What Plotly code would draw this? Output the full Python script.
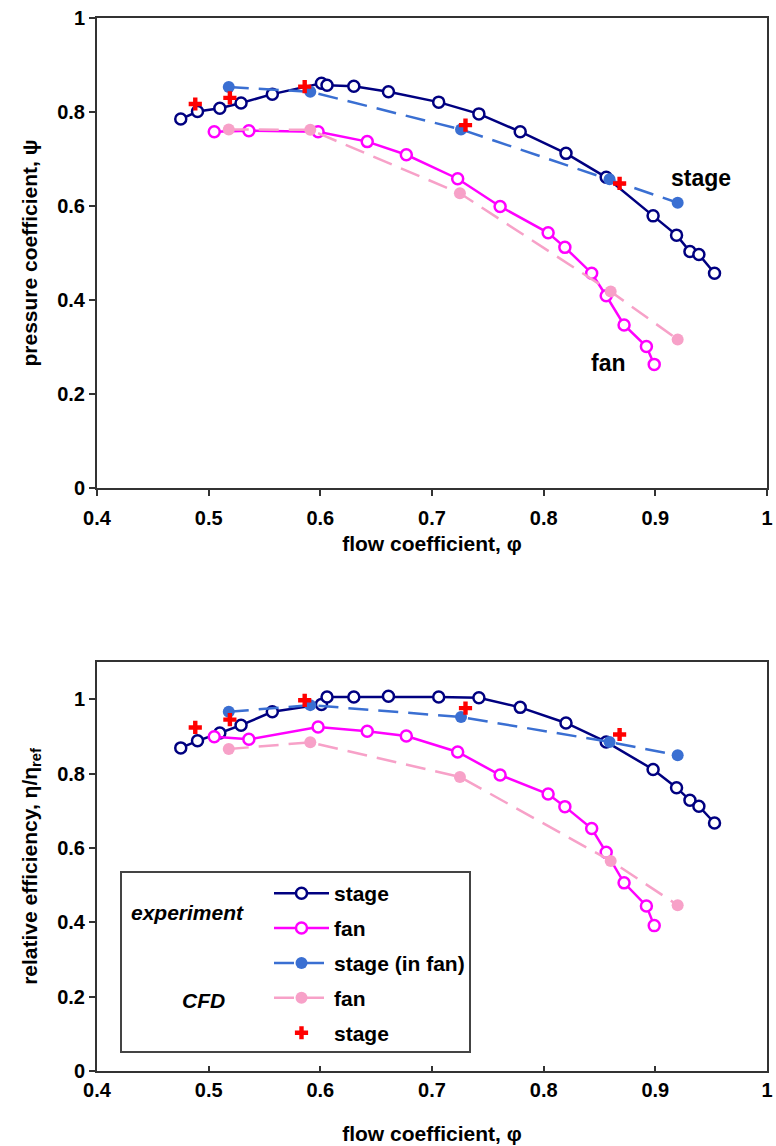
import plotly.graph_objects as go

# ---------------- data ----------------
# experiment, stage
phi_stage_exp = [0.475, 0.490, 0.510, 0.529, 0.557, 0.601, 0.606, 0.630, 0.661, 0.706,
                 0.742, 0.779, 0.820, 0.856, 0.898, 0.919, 0.931, 0.939, 0.953]
psi_stage_exp = [0.785, 0.801, 0.808, 0.819, 0.838, 0.861, 0.857, 0.855, 0.843, 0.821,
                 0.796, 0.758, 0.712, 0.661, 0.579, 0.538, 0.503, 0.497, 0.457]
eff_stage_exp = [0.869, 0.888, 0.909, 0.930, 0.966, 0.986, 1.006, 1.006, 1.008, 1.006,
                 1.004, 0.978, 0.936, 0.885, 0.811, 0.762, 0.728, 0.712, 0.667]

# experiment, fan
phi_fan_exp = [0.505, 0.536, 0.598, 0.642, 0.677, 0.723, 0.761, 0.804, 0.819, 0.843,
               0.856, 0.872, 0.892, 0.899]
psi_fan_exp = [0.758, 0.760, 0.758, 0.737, 0.709, 0.658, 0.599, 0.543, 0.512, 0.457,
               0.409, 0.347, 0.301, 0.263]
eff_fan_exp = [0.899, 0.892, 0.925, 0.914, 0.901, 0.858, 0.796, 0.745, 0.711, 0.652,
               0.588, 0.506, 0.444, 0.391]

# CFD, stage (in fan)
phi_stage_cfd = [0.518, 0.591, 0.726, 0.859, 0.920]
psi_stage_cfd = [0.853, 0.843, 0.763, 0.657, 0.607]
eff_stage_cfd = [0.966, 0.984, 0.952, 0.885, 0.849]

# CFD, fan
phi_fan_cfd = [0.518, 0.591, 0.725, 0.860, 0.920]
psi_fan_cfd = [0.763, 0.762, 0.627, 0.418, 0.316]
eff_fan_cfd = [0.866, 0.884, 0.791, 0.565, 0.446]

# CFD, stage
phi_stage_cfd2 = [0.488, 0.519, 0.586, 0.730, 0.868]
psi_stage_cfd2 = [0.817, 0.830, 0.854, 0.772, 0.648]
eff_stage_cfd2 = [0.924, 0.945, 0.997, 0.976, 0.905]

x_ticks = [0.4, 0.5, 0.6, 0.7, 0.8, 0.9, 1.0]
x_tick_text = ["0.4", "0.5", "0.6", "0.7", "0.8", "0.9", "1"]
y_ticks = [0, 0.2, 0.4, 0.6, 0.8, 1.0]
y_tick_text = ["0", "0.2", "0.4", "0.6", "0.8", "1"]

# ---------------- style ----------------
FONT = "Liberation Sans, Arial, sans-serif"
NAVY = "#000080"
MAGENTA = "#FF00FF"
BLUE = "#3A6FD2"
PINK = "#F7A1C8"
RED = "#FF0000"
W, H = 776, 1146

def px_x(p):
    return p / W

def px_y(p):
    return 1 - p / H

fig = go.Figure()

series = [
    dict(name="stage", x=phi_stage_exp, top=psi_stage_exp, bot=eff_stage_exp,
         mode="lines+markers", line=dict(color=NAVY, width=2.5),
         marker=dict(symbol="circle", size=11, color="white", line=dict(color=NAVY, width=2.5))),
    dict(name="fan", x=phi_fan_exp, top=psi_fan_exp, bot=eff_fan_exp,
         mode="lines+markers", line=dict(color=MAGENTA, width=2.5),
         marker=dict(symbol="circle", size=11, color="white", line=dict(color=MAGENTA, width=2.5))),
    dict(name="stage (in fan)", x=phi_stage_cfd, top=psi_stage_cfd, bot=eff_stage_cfd,
         mode="lines+markers", line=dict(color=BLUE, width=2.5, dash="20px,10px"),
         marker=dict(symbol="circle", size=12, color=BLUE)),
    dict(name="fan", x=phi_fan_cfd, top=psi_fan_cfd, bot=eff_fan_cfd,
         mode="lines+markers", line=dict(color=PINK, width=2.5, dash="20px,10px"),
         marker=dict(symbol="circle", size=12, color=PINK)),
    dict(name="stage", x=phi_stage_cfd2, top=psi_stage_cfd2, bot=eff_stage_cfd2,
         mode="markers", line=None,
         marker=dict(symbol="cross", size=11, color=RED)),
]

for i, s in enumerate(series):
    kw = dict(mode=s["mode"], marker=s["marker"])
    if s["line"] is not None:
        kw["line"] = s["line"]
    fig.add_trace(go.Scatter(x=s["x"], y=s["top"], xaxis="x", yaxis="y",
                             showlegend=False, name=s["name"], **kw))
    fig.add_trace(go.Scatter(x=s["x"], y=s["bot"], xaxis="x2", yaxis="y2",
                             showlegend=True, legendgroup="g%d" % i,
                             name=s["name"], **kw))

tickfont = dict(family=FONT, size=20, color="black", weight="bold")
titlefont = dict(family=FONT, size=21, color="black", weight="bold")
axis_common = dict(showline=True, linecolor="#333333", linewidth=2, mirror=True,
                   tickcolor="#333333", tickwidth=1.5, automargin=False,
                   showgrid=False, zeroline=False, tickfont=tickfont)

fig.update_layout(
    width=W, height=H,
    margin=dict(l=0, r=0, t=0, b=0),
    paper_bgcolor="white", plot_bgcolor="white",
    xaxis=dict(domain=[px_x(97), px_x(767)], range=[0.4, 1.0], anchor="y",
               tickvals=x_ticks, ticktext=x_tick_text, ticks="outside", ticklen=6,
               ticklabelstandoff=5,
               title=dict(text="flow coefficient, φ", font=titlefont, standoff=8),
               **axis_common),
    yaxis=dict(domain=[px_y(488), px_y(18)], range=[0, 1.0], anchor="x",
               tickvals=y_ticks, ticktext=y_tick_text, ticks="outside", ticklen=6,
               title=dict(text="pressure coefficient, ψ", font=titlefont, standoff=14),
               **axis_common),
    xaxis2=dict(domain=[px_x(97), px_x(767)], range=[0.4, 1.0], anchor="y2",
                tickvals=x_ticks, ticktext=x_tick_text, ticks="inside", ticklen=5,
                title=dict(text="flow coefficient, φ", font=titlefont, standoff=26),
                **axis_common),
    yaxis2=dict(domain=[px_y(1071), px_y(662)], range=[0, 1.1], anchor="x2",
                tickvals=y_ticks, ticktext=y_tick_text, ticks="outside", ticklen=6,
                title=dict(text="relative efficiency, η/η<sub>ref</sub>", font=titlefont, standoff=14),
                **axis_common),
    legend=dict(x=px_x(269), y=px_y(873), xanchor="left", yanchor="top",
                bgcolor="rgba(0,0,0,0)", borderwidth=0,
                traceorder="grouped", tracegroupgap=4.6, itemwidth=55,
                font=dict(family=FONT, size=21, color="black", weight="bold")),
    shapes=[dict(type="rect", xref="paper", yref="paper",
                 x0=px_x(121), x1=px_x(470), y0=px_y(1052), y1=px_y(872),
                 line=dict(color="#444444", width=2), fillcolor="rgba(0,0,0,0)")],
    annotations=[
        dict(text="stage", x=0.941, y=0.66, xref="x", yref="y", showarrow=False,
             xanchor="center", yanchor="middle",
             font=dict(family=FONT, size=23, color="black", weight="bold")),
        dict(text="fan", x=0.858, y=0.266, xref="x", yref="y", showarrow=False,
             xanchor="center", yanchor="middle",
             font=dict(family=FONT, size=23, color="black", weight="bold")),
        dict(text="<i>experiment</i>", x=px_x(187), y=px_y(912), xref="paper", yref="paper",
             xanchor="center", yanchor="middle",
             showarrow=False, font=dict(family=FONT, size=21, color="black", weight="bold")),
        dict(text="<i>CFD</i>", x=px_x(203), y=px_y(1000), xref="paper", yref="paper",
             xanchor="center", yanchor="middle",
             showarrow=False, font=dict(family=FONT, size=21, color="black", weight="bold")),
    ],
)

fig.write_html("out.html")
